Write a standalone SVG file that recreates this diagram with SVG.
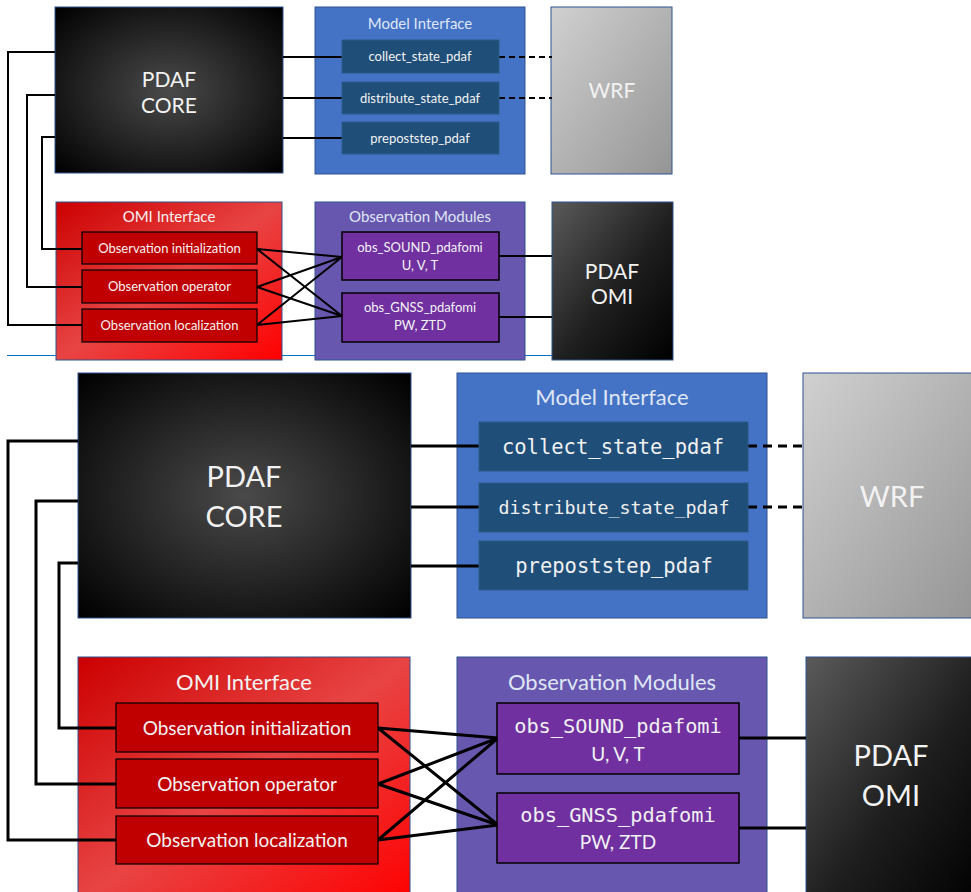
<svg xmlns="http://www.w3.org/2000/svg" width="971" height="892" viewBox="0 0 971 892">
<defs>
<radialGradient id="gCore" cx="0.5" cy="0.5" r="0.7">
<stop offset="0" stop-color="#4a4a4a"/>
<stop offset="1" stop-color="#000"/>
</radialGradient>
<linearGradient id="gWrf" x1="0" y1="0" x2="1" y2="1">
<stop offset="0" stop-color="#d0d0d0"/>
<stop offset="1" stop-color="#959595"/>
</linearGradient>
<linearGradient id="gOmi" x1="0" y1="0" x2="1" y2="1">
<stop offset="0" stop-color="#5a5a5a"/>
<stop offset="0.55" stop-color="#1e1e1e"/>
<stop offset="1" stop-color="#000"/>
</linearGradient>
<linearGradient id="gRed" x1="0" y1="0" x2="1" y2="1">
<stop offset="0" stop-color="#cc0000"/>
<stop offset="0.5" stop-color="#e84444"/>
<stop offset="1" stop-color="#ff0000"/>
</linearGradient>
</defs>
<style>
.core{fill:url(#gCore);stroke:#2F528F;stroke-width:1}
.wrf{fill:url(#gWrf);stroke:#2F528F;stroke-width:1}
.pomi{fill:url(#gOmi);stroke:#2F528F;stroke-width:1}
.model{fill:#4472C4;stroke:#2F528F;stroke-width:1}
.obsm{fill:#6857AE;stroke:#2F528F;stroke-width:1}
.omii{fill:url(#gRed);stroke:#2F528F;stroke-width:1}
.mbox{fill:#1F4E79;stroke:#2E5A88;stroke-width:1}
.rbox{fill:#C00000;stroke:#000;stroke-width:1.2}
.pbox{fill:#7030A0;stroke:#000;stroke-width:1.5}
text{font-family:Lato,"Open Sans","Liberation Sans",sans-serif;text-anchor:middle}
.w{fill:#f2f2f2}
.t{fill:#dfe6f5}
.mono{font-family:"DejaVu Sans Mono","Liberation Mono",monospace;fill:#f0f0f0}
.c1{fill:none;stroke:#000;stroke-width:2}
.c2{fill:none;stroke:#000;stroke-width:3}
.d1{fill:none;stroke:#000;stroke-width:2;stroke-dasharray:6 4}
.d2{fill:none;stroke:#000;stroke-width:3;stroke-dasharray:9 6}
</style>
<line x1="7" y1="355.5" x2="552" y2="355.5" stroke="#0070C0" stroke-width="1.2"/>
<!-- containers / standalone blocks -->
<g id="core-top">
<rect class="core" x="55" y="7" width="228" height="166"/>
<text class="w" x="169" y="87" font-size="21">PDAF</text>
<text class="w" x="169" y="113" font-size="21">CORE</text>
</g>
<g id="model-top">
<rect class="model" x="315" y="7" width="210" height="167"/>
<text class="t" x="420" y="29" font-size="15">Model Interface</text>
</g>
<g id="wrf-top">
<rect class="wrf" x="551" y="7" width="121" height="167"/>
<text class="w" x="612" y="98" font-size="21">WRF</text>
</g>
<g id="omi-top">
<rect class="omii" x="56" y="202" width="226" height="158"/>
<text class="w" x="169" y="222" font-size="15">OMI Interface</text>
</g>
<g id="obsmod-top">
<rect class="obsm" x="315" y="202" width="210" height="158"/>
<text class="t" x="420" y="222" font-size="15">Observation Modules</text>
</g>
<g id="pdafomi-top">
<rect class="pomi" x="552" y="202" width="121" height="158"/>
<text class="w" x="612" y="279" font-size="21">PDAF</text>
<text class="w" x="612" y="304" font-size="21">OMI</text>
</g>
<g id="core-bot">
<rect class="core" x="78" y="373" width="333" height="245"/>
<text class="w" x="244" y="487" font-size="29">PDAF</text>
<text class="w" x="244" y="527" font-size="29">CORE</text>
</g>
<g id="model-bot">
<rect class="model" x="457" y="373" width="310" height="245"/>
<text class="t" x="612" y="405" font-size="22">Model Interface</text>
</g>
<g id="wrf-bot">
<rect class="wrf" x="803" y="373" width="175" height="245"/>
<text class="w" x="892" y="507" font-size="29">WRF</text>
</g>
<g id="omi-bot">
<rect class="omii" x="78" y="657" width="332" height="245"/>
<text class="w" x="244" y="690" font-size="22">OMI Interface</text>
</g>
<g id="obsmod-bot">
<rect class="obsm" x="457" y="657" width="310" height="245"/>
<text class="t" x="612" y="690" font-size="22">Observation Modules</text>
</g>
<g id="pdafomi-bot">
<rect class="pomi" x="806" y="657" width="175" height="245"/>
<text class="w" x="891" y="766" font-size="29">PDAF</text>
<text class="w" x="891" y="806" font-size="29">OMI</text>
</g>
<g id="connectors">
<path class="c1" d="M55,52 H8 V325 H82"/>
<path class="c1" d="M55,95 H27 V287 H82"/>
<path class="c1" d="M55,137 H42 V249 H82"/>
<path class="c1" d="M283,57 H342 M283,98 H342 M283,138 H342"/>
<path class="d1" d="M499,57 H552 M499,98 H552"/>
<path class="c1" d="M257,249 L342,257 M257,249 L342,316 M257,287 L342,257 M257,287 L342,316 M257,325 L342,257 M257,325 L342,316"/>
<path class="c1" d="M499,256 H552 M499,317 H552"/>
<path class="c2" d="M78,441 H8 V840 H116"/>
<path class="c2" d="M78,501 H36 V784 H116"/>
<path class="c2" d="M78,563 H59 V728 H116"/>
<path class="c2" d="M411,446 H479 M411,507 H479 M411,566 H479"/>
<path class="d2" d="M748,446 H803 M748,507 H803"/>
<path class="c2" d="M378,728 L498,738 M378,728 L498,825 M378,784 L498,738 M378,784 L498,825 M378,840 L498,738 M378,840 L498,825"/>
<path class="c2" d="M739,738 H806 M739,828 H806"/>
</g>
<!-- inner nodes -->
<g id="collect-top">
<rect class="mbox" x="342" y="40" width="157" height="33"/>
<text class="w" x="420" y="61" font-size="13">collect_state_pdaf</text>
</g>
<g id="distribute-top">
<rect class="mbox" x="342" y="82" width="157" height="32"/>
<text class="w" x="420" y="103" font-size="13">distribute_state_pdaf</text>
</g>
<g id="prepost-top">
<rect class="mbox" x="342" y="122" width="157" height="32"/>
<text class="w" x="420" y="143" font-size="13">prepoststep_pdaf</text>
</g>
<g id="init-top">
<rect class="rbox" x="82" y="232" width="175" height="32"/>
<text class="w" x="169.5" y="253" font-size="13">Observation initialization</text>
</g>
<g id="oper-top">
<rect class="rbox" x="82" y="270" width="175" height="33"/>
<text class="w" x="169.5" y="291" font-size="13">Observation operator</text>
</g>
<g id="local-top">
<rect class="rbox" x="82" y="309" width="175" height="33"/>
<text class="w" x="169.5" y="330" font-size="13">Observation localization</text>
</g>
<g id="sound-top">
<rect class="pbox" x="342" y="232" width="157" height="48"/>
<text class="w" x="420" y="252" font-size="13">obs_SOUND_pdafomi</text>
<text class="w" x="420" y="270" font-size="13">U, V, T</text>
</g>
<g id="gnss-top">
<rect class="pbox" x="342" y="293" width="157" height="49"/>
<text class="w" x="420" y="312" font-size="13">obs_GNSS_pdafomi</text>
<text class="w" x="420" y="330" font-size="13">PW, ZTD</text>
</g>
<g id="collect-bot">
<rect class="mbox" x="479" y="422" width="269" height="49"/>
<text class="mono" x="613" y="454" font-size="20.5">collect_state_pdaf</text>
</g>
<g id="distribute-bot">
<rect class="mbox" x="479" y="483" width="269" height="49"/>
<text class="mono" x="614" y="514" font-size="18.3">distribute_state_pdaf</text>
</g>
<g id="prepost-bot">
<rect class="mbox" x="479" y="541" width="269" height="49"/>
<text class="mono" x="614" y="573" font-size="20.5">prepoststep_pdaf</text>
</g>
<g id="init-bot">
<rect class="rbox" x="116" y="703" width="262" height="49"/>
<text class="w" x="247" y="735" font-size="19">Observation initialization</text>
</g>
<g id="oper-bot">
<rect class="rbox" x="116" y="759" width="262" height="49"/>
<text class="w" x="247" y="791" font-size="19">Observation operator</text>
</g>
<g id="local-bot">
<rect class="rbox" x="116" y="816" width="262" height="48"/>
<text class="w" x="247" y="847" font-size="19">Observation localization</text>
</g>
<g id="sound-bot">
<rect class="pbox" x="497" y="703" width="242" height="71"/>
<text class="mono" x="618" y="733" font-size="20.3">obs_SOUND_pdafomi</text>
<text class="w" x="618" y="761" font-size="19">U, V, T</text>
</g>
<g id="gnss-bot">
<rect class="pbox" x="497" y="793" width="242" height="70"/>
<text class="mono" x="618" y="822" font-size="20.3">obs_GNSS_pdafomi</text>
<text class="w" x="618" y="849" font-size="19">PW, ZTD</text>
</g>
</svg>
